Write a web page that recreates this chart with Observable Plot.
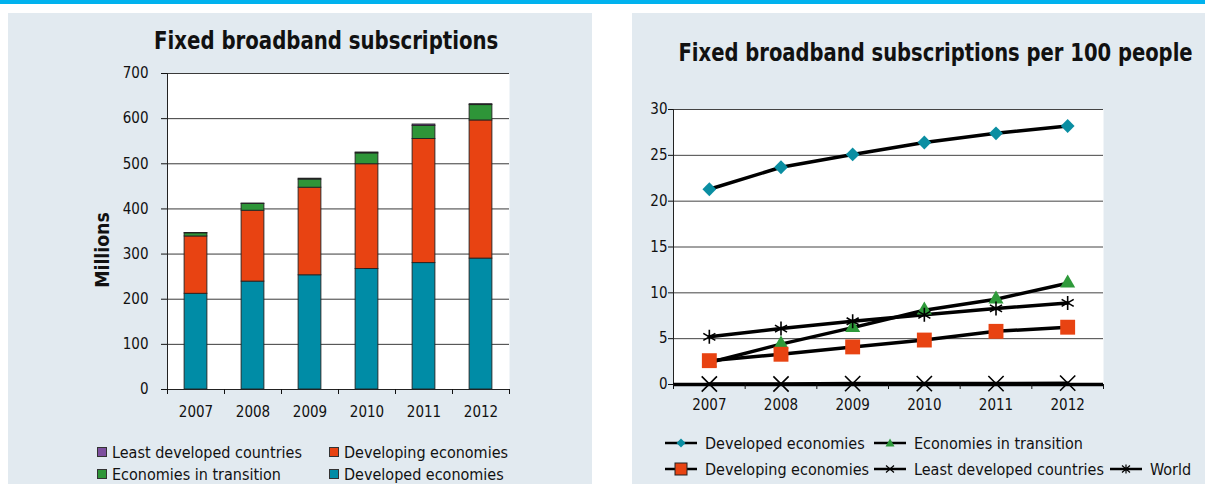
<!DOCTYPE html>
<html><head><meta charset="utf-8">
<script src="https://cdn.jsdelivr.net/npm/d3@7"></script>
<script src="https://cdn.jsdelivr.net/npm/@observablehq/plot@0.6"></script>
<style>
body{margin:0;width:1205px;height:484px;overflow:hidden;background:#fff;position:relative;
  font-family:"Liberation Sans Narrow","DejaVu Sans Condensed","Arial Narrow",sans-serif;color:#111}
.stripe{position:absolute;left:0;top:0;width:1205px;height:4px;background:#00b2ee}
.panel{position:absolute;top:13px;height:471px;background:#e2eaf0}
.title{position:absolute;font-weight:bold;font-size:25px;white-space:nowrap;display:inline-block;transform-origin:center center}
.abs{position:absolute}
.leg{position:absolute;font-size:16px;white-space:nowrap;display:flex;align-items:center;height:20px}
.sq{display:inline-block;width:8px;height:8px;border:1px solid #333;margin-right:5px}
.ylab{position:absolute;font-size:20px;font-weight:bold;white-space:nowrap;display:inline-block;transform-origin:center center}
</style></head><body>
<div class="stripe"></div>
<div class="panel" style="left:8px;width:584px"></div>
<div class="panel" style="left:632px;width:573px"></div>
<div class="title" id="t1" data-cx="326" data-cy="40" data-w="344">Fixed broadband subscriptions</div>
<div class="title" id="t2" data-cx="935" data-cy="52" data-w="514">Fixed broadband subscriptions per 100 people</div>
<div class="ylab" id="yl" data-cx="102" data-cy="250" data-w="75">Millions</div>
<div id="c1" class="abs" style="left:8px;top:60px"></div>
<div id="c2" class="abs" style="left:632px;top:95px"></div>
<div id="leg1"></div>
<div id="leg2"></div>
<script>
// ---- Left chart data (millions) ----
const years = [2007, 2008, 2009, 2010, 2011, 2012];
const barSeries = ["Developed economies", "Developing economies", "Economies in transition", "Least developed countries"];
const barColors = ["#008ca6", "#e84312", "#2e9538", "#7d4f9e"];
const developedM = [212, 239, 253, 267, 280, 290];
const developingM = [127, 157, 194, 232, 275, 306];
const transitionM = [7, 15, 18, 24, 29, 34];
const ldcM = [0.6, 1, 2, 2, 3, 2];
const yTicksLeft = [0, 100, 200, 300, 400, 500, 600, 700];

// ---- Right chart data (per 100 people) ----
const lineSeries = ["Developed economies", "Economies in transition", "Developing economies", "Least developed countries", "World"];
const perDeveloped = [21.3, 23.7, 25.1, 26.4, 27.4, 28.2];
const perTransition = [2.4, 4.4, 6.2, 8.1, 9.3, 11.05];
const perDeveloping = [2.6, 3.3, 4.1, 4.85, 5.8, 6.25];
const perLdc = [0.05, 0.05, 0.1, 0.1, 0.1, 0.15];
const perWorld = [5.2, 6.1, 6.9, 7.6, 8.3, 8.9];
const yTicksRight = [0, 5, 10, 15, 20, 25, 30];

const bounds = years.map(y => y - 0.5).concat([years[years.length - 1] + 0.5]);
const FONT = '"Liberation Sans Narrow","DejaVu Sans Condensed",sans-serif';

// fit titles to reference widths
["t1", "t2", "yl"].forEach(id => {
  const el = document.getElementById(id);
  const w = el.offsetWidth, h = el.offsetHeight;
  const cx = +el.dataset.cx, cy = +el.dataset.cy, tw = +el.dataset.w;
  el.style.left = (cx - w / 2) + "px";
  el.style.top = (cy - h / 2) + "px";
  const k = tw / w;
  el.style.transform = id === "yl" ? `rotate(-90deg) scaleX(${k})` : `scaleX(${k})`;
});

// stacked table
const barVals = [developedM, developingM, transitionM, ldcM];
const stacked = [];
years.forEach((yr, i) => {
  let acc = 0;
  barSeries.forEach((s, k) => {
    const v = barVals[k][i];
    stacked.push({year: yr, series: s, y1: acc, y2: acc + v});
    acc += v;
  });
});

const left = Plot.plot({
  width: 584, height: 372,
  marginLeft: 159, marginRight: 83, marginTop: 13, marginBottom: 43,
  style: {background: "transparent", fontFamily: FONT, fontSize: "15px", color: "#111"},
  x: {type: "linear", domain: [bounds[0], bounds[bounds.length - 1]]},
  y: {domain: [0, 700]},
  color: {domain: barSeries, range: barColors},
  marks: [
    Plot.frame({fill: "white", stroke: "none"}),
    Plot.gridY(yTicksLeft, {stroke: "#3a3a3a", strokeOpacity: 1}),
    Plot.rectY(stacked, {x1: d => d.year - 0.2, x2: d => d.year + 0.2, y1: "y1", y2: "y2", fill: "series", stroke: "#222", strokeWidth: 0.9}),
    Plot.ruleX([bounds[0]], {stroke: "#222"}),
    Plot.ruleY([0], {stroke: "#222"}),
    Plot.axisY({ticks: yTicksLeft, tickSize: 6, tickPadding: 13, label: null, fontSize: 15}),
    Plot.axisX({ticks: years, tickSize: 0, tickPadding: 17, tickFormat: d => String(d), label: null, fontSize: 15}),
    Plot.axisX({ticks: bounds, tickSize: 5, tickFormat: () => "", label: null})
  ]
});
document.getElementById("c1").appendChild(left);

// right chart table
const lineVals = [perDeveloped, perTransition, perDeveloping, perLdc, perWorld];
const rows = [];
lineSeries.forEach((s, k) => years.forEach((yr, i) => rows.push({year: yr, series: s, v: lineVals[k][i]})));
const of = s => rows.filter(d => d.series === s);

const right = Plot.plot({
  width: 573, height: 331,
  marginLeft: 41, marginRight: 102, marginTop: 14, marginBottom: 42,
  style: {background: "transparent", fontFamily: FONT, fontSize: "15px", color: "#111"},
  x: {type: "linear", domain: [bounds[0], bounds[bounds.length - 1]]},
  y: {domain: [0, 30]},
  marks: [
    Plot.frame({fill: "white", stroke: "none"}),
    Plot.gridY(yTicksRight.slice(1), {stroke: "#444", strokeOpacity: 1}),
    Plot.ruleX([bounds[0]], {stroke: "#222"}),
    Plot.line(rows, {x: "year", y: "v", z: "series", stroke: "black", strokeWidth: 3.5}),
    Plot.ruleY([0], {stroke: "black", strokeWidth: 3.5}),
    Plot.dot(of("Developed economies"), {x: "year", y: "v", symbol: "diamond2", fill: "#0a8ea2", stroke: "none", r: 6.2}),
    Plot.dot(of("Economies in transition"), {x: "year", y: "v", symbol: "triangle", fill: "#2e9a3a", stroke: "none", r: 5.6}),
    Plot.dot(of("Developing economies"), {x: "year", y: "v", symbol: "square", fill: "#e84312", stroke: "none", r: 8.4}),
    Plot.dot(of("Least developed countries"), {x: "year", y: "v", symbol: "times", stroke: "black", strokeWidth: 1.6, r: 7}),
    Plot.dot(of("World"), {x: "year", y: "v", symbol: "asterisk", stroke: "black", strokeWidth: 1.6, r: 6.6}),
    Plot.axisY({ticks: yTicksRight, tickSize: 5, tickPadding: 1, label: null, fontSize: 15}),
    Plot.axisX({ticks: years, tickSize: 0, tickPadding: 15, tickFormat: d => String(d), label: null, fontSize: 15}),
    Plot.axisX({ticks: bounds, tickSize: 5, tickFormat: () => "", label: null})
  ]
});
document.getElementById("c2").appendChild(right);

// legends
const leg1 = [
  {name: "Least developed countries", color: "#7d4f9e", x: 97, y: 442},
  {name: "Developing economies", color: "#e84312", x: 329, y: 442},
  {name: "Economies in transition", color: "#2e9538", x: 97, y: 464},
  {name: "Developed economies", color: "#008ca6", x: 329, y: 464}
];
const L1 = document.getElementById("leg1");
leg1.forEach(d => {
  const el = document.createElement("div");
  el.className = "leg";
  el.style.left = d.x + "px"; el.style.top = d.y + "px";
  el.innerHTML = `<span class="sq" style="background:${d.color}"></span>${d.name}`;
  L1.appendChild(el);
});

const sym = {
  "Developed economies": '<path d="M17,0.5 L21.5,5 L17,9.5 L12.5,5Z" fill="#0a8ea2"/>',
  "Economies in transition": '<path d="M17,0.5 L21.5,8.5 L12.5,8.5Z" fill="#2e9a3a"/>',
  "Developing economies": '<rect x="11" y="-1" width="12" height="12" fill="#e84312" stroke="#222" stroke-width="1"/>',
  "Least developed countries": '<path d="M13,1.5 L21,8.5 M13,8.5 L21,1.5" stroke="#000" stroke-width="1.2"/>',
  "World": '<path d="M13,1.5 L21,8.5 M13,8.5 L21,1.5 M17,0.5 L17,9.5" stroke="#000" stroke-width="1.2"/>'
};
const leg2 = [
  {name: "Developed economies", x: 664, y: 433},
  {name: "Economies in transition", x: 873, y: 433},
  {name: "Developing economies", x: 664, y: 459},
  {name: "Least developed countries", x: 873, y: 459},
  {name: "World", x: 1109, y: 459}
];
const L2 = document.getElementById("leg2");
leg2.forEach(d => {
  const el = document.createElement("div");
  el.className = "leg";
  el.style.left = d.x + "px"; el.style.top = d.y + "px";
  el.innerHTML = `<svg width="36" height="10" style="overflow:visible;margin-right:5px"><line x1="1" x2="33" y1="5" y2="5" stroke="#000" stroke-width="2.5"/>${sym[d.name]}</svg>${d.name}`;
  L2.appendChild(el);
});
</script>
</body></html>
